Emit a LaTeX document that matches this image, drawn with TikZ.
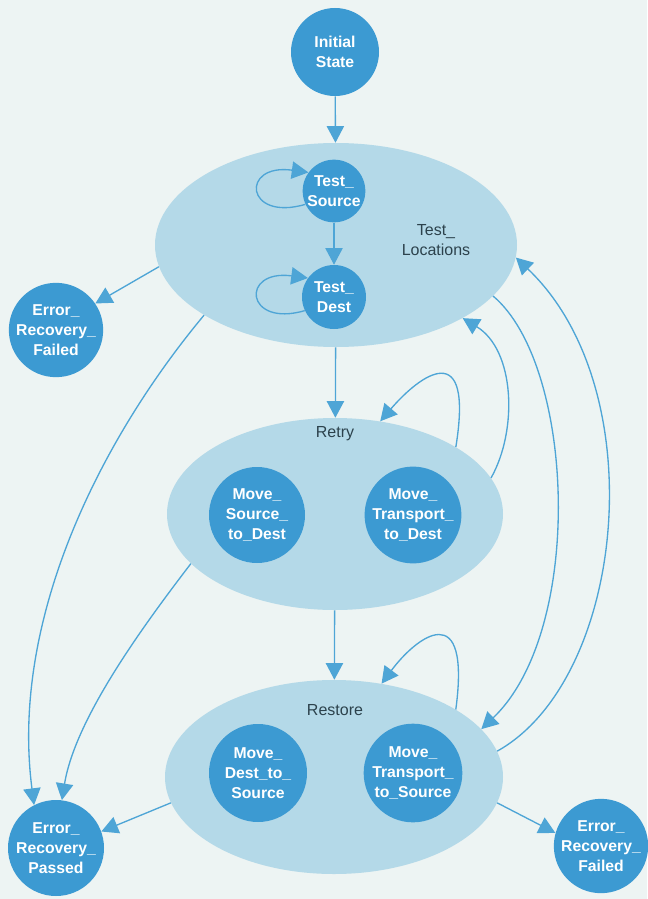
\documentclass[tikz,border=0pt]{standalone}
\usepackage{fontspec}
\setmainfont{Liberation Sans}
\usetikzlibrary{shapes.geometric,arrows.meta}
\definecolor{bgc}{RGB}{237,244,243}
\definecolor{regionc}{RGB}{180,217,232}
\definecolor{statec}{RGB}{60,154,210}
\definecolor{linec}{RGB}{78,165,214}
\definecolor{labc}{RGB}{44,66,76}
\begin{document}
\begin{tikzpicture}[x=0.75pt,y=0.75pt,
  state/.style={circle, fill=statec, text=white, inner sep=0pt, align=center,
    font=\fontsize{11.8}{15}\selectfont\bfseries},
  region/.style={ellipse, fill=regionc, inner sep=0pt},
  reglabel/.style={text=labc, align=center, inner sep=0pt, font=\fontsize{12}{15}\selectfont},
  arr/.style={draw=linec, line width=1pt, -{Triangle[length=12.5pt,width=13pt]}}]
\useasboundingbox (0,0) rectangle (647,-899);
\fill[bgc] (0,0) rectangle (647,-899);

% regions
\node[region, minimum width=271.5pt, minimum height=153pt] (tl) at (336,-245) {};
\node[region, minimum width=252pt, minimum height=144pt] (retry) at (335,-514) {};
\node[region, minimum width=253.5pt, minimum height=145.5pt] (restore) at (334,-777) {};

% region labels
\node[reglabel] (tllab) at (436,-240) {Test\_\\Locations};
\node[reglabel] (retrylab) at (335,-434) {Retry};
\node[reglabel] (restorelab) at (335,-710) {Restore};

% states
\node[state, minimum size=66pt] (init) at (335,-52) {Initial\\State};
\node[state, minimum size=47pt] (ts) at (334,-191) {Test\_\\Source};
\node[state, minimum size=48pt] (td) at (334,-297) {Test\_\\Dest};
\node[state, minimum size=70pt] (erf1) at (56,-330) {Error\_\\Recovery\_\\Failed};
\node[state, minimum size=72pt] (msd) at (257,-515) {Move\_\\Source\_\\to\_Dest};
\node[state, minimum size=72pt] (mtd) at (413,-515) {Move\_\\Transport\_\\to\_Dest};
\node[state, minimum size=73.5pt] (mds) at (258,-773) {Move\_\\Dest\_to\_\\Source};
\node[state, minimum size=74pt] (mts) at (413,-773) {Move\_\\Transport\_\\to\_Source};
\node[state, minimum size=72pt] (erp) at (56,-848) {Error\_\\Recovery\_\\Passed};
\node[state, minimum size=70pt] (erf2) at (601,-846) {Error\_\\Recovery\_\\Failed};

% straight vertical transitions
\draw[arr] (init) -- (tl);
\draw[arr] (ts) -- (td);
\draw[arr] (tl) -- (retry);
\draw[arr] (retry) -- (restore);

% self loops
\draw[arr] (ts.205) .. controls (245,-222) and (240,-163) .. (ts.144);
\draw[arr] (td.205) .. controls (245,-328) and (240,-269) .. (td.144);
\draw[arr] (retry.29) .. controls (474,-335) and (420,-375) .. (retry.64);
\draw[arr] (restore.29) .. controls (471,-596) and (417,-636) .. (restore.63);

% to error states
\draw[arr] (tl.187) -- (erf1.34);
\draw[arr] (tl.208) .. controls (100,-440) and (10,-620) .. (erp.117);
\draw[arr] (retry.199) .. controls (140,-630) and (75,-720) .. (erp.83);
\draw[arr] (restore.189) -- (erp.20);
\draw[arr] (restore.-9) -- (erf2.164);

% right side transitions
\draw[arr] (retry.13) .. controls (518,-430) and (515,-350) .. (tl.-30);
\draw[arr] (tl.-18) .. controls (575,-365) and (585,-630) .. (restore.18);
\draw[arr] (restore.9) .. controls (625,-680) and (655,-390) .. (tl.-4);
\end{tikzpicture}
\end{document}
